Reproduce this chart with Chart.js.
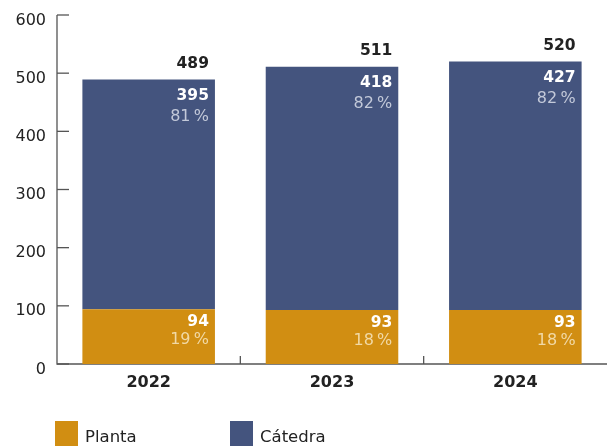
<!DOCTYPE html>
<html><head><meta charset="utf-8">
<script src="https://cdn.jsdelivr.net/npm/chart.js@4.4.1/dist/chart.umd.min.js"></script>
<style>html,body{margin:0;padding:0;background:#fff;}#wrap{position:relative;width:607px;height:446px;}</style>
</head><body><div id="wrap"><canvas id="c" width="607" height="446"></canvas></div>
<script>
const categories = ['2022', '2023', '2024'];
const plantaValues = [94, 93, 93];
const catedraValues = [395, 418, 427];
const totals = [489, 511, 520];
const plantaPct = ['19\u2009%', '18\u2009%', '18\u2009%'];
const catedraPct = ['81\u2009%', '82\u2009%', '82\u2009%'];
const yTicks = [0, 100, 200, 300, 400, 500, 600];
const seriesNames = ['Planta', 'Cátedra'];
const seriesColors = ['#D18E12', '#44547E'];

const FONT = '"DejaVu Sans", sans-serif';

const axes = {
  id: 'axes',
  beforeDatasetsDraw(chart) {
    const ctx = chart.ctx;
    const x = chart.scales.x, y = chart.scales.y;
    const area = chart.chartArea;
    ctx.save();
    ctx.strokeStyle = '#555';
    ctx.lineWidth = 1.3;
    ctx.beginPath();
    ctx.moveTo(area.left, y.getPixelForValue(600));
    ctx.lineTo(area.left, y.getPixelForValue(0));
    ctx.lineTo(area.right, y.getPixelForValue(0));
    ctx.stroke();
    ctx.font = '16px ' + FONT;
    ctx.fillStyle = '#222';
    ctx.textAlign = 'right';
    ctx.textBaseline = 'alphabetic';
    yTicks.forEach(v => {
      const py = y.getPixelForValue(v);
      ctx.beginPath(); ctx.moveTo(area.left, py); ctx.lineTo(area.left + 12, py); ctx.stroke();
      ctx.fillText(String(v), area.left - 11, py + 9.5);
    });
    for (let i = 0; i < categories.length - 1; i++) {
      const px = (x.getPixelForValue(i) + x.getPixelForValue(i + 1)) / 2;
      const py = y.getPixelForValue(0);
      ctx.beginPath(); ctx.moveTo(px, py); ctx.lineTo(px, py - 8); ctx.stroke();
    }
    ctx.font = 'bold 16px ' + FONT;
    ctx.textAlign = 'center';
    categories.forEach((c, i) => {
      ctx.fillText(c, x.getPixelForValue(i), y.getPixelForValue(0) + 22.5);
    });
    ctx.restore();
  }
};

const overlay = {
  id: 'overlay',
  afterDatasetsDraw(chart) {
    const ctx = chart.ctx;
    ctx.save();
    const m0 = chart.getDatasetMeta(0), m1 = chart.getDatasetMeta(1);
    ctx.textAlign = 'right';
    ctx.textBaseline = 'alphabetic';
    categories.forEach((c, i) => {
      const b0 = m0.data[i], b1 = m1.data[i];
      const right = b1.x + b1.width / 2 - 6;
      ctx.font = 'bold 15.5px ' + FONT;
      ctx.fillStyle = '#222';
      ctx.fillText(String(totals[i]), right, b1.y - 11.5);
      ctx.fillStyle = '#fff';
      ctx.fillText(String(catedraValues[i]), right, b1.y + 20);
      ctx.fillText(String(plantaValues[i]), right, b0.y + 17);
      ctx.font = '16px ' + FONT;
      ctx.fillStyle = '#C3C9D9';
      ctx.fillText(catedraPct[i], right, b1.y + 41.5);
      ctx.fillStyle = '#F1D9A6';
      ctx.fillText(plantaPct[i], right, b0.y + 35);
    });
    const lx = [55, 230];
    seriesNames.forEach((n, i) => {
      ctx.fillStyle = seriesColors[i];
      ctx.fillRect(lx[i], 421, 23, 25);
      ctx.fillStyle = '#222';
      ctx.textAlign = 'left';
      ctx.font = '16.5px ' + FONT;
      ctx.fillText(n, lx[i] + 30, 441.5);
    });
    ctx.restore();
  }
};

new Chart(document.getElementById('c'), {
  type: 'bar',
  data: {
    labels: categories,
    datasets: [
      { label: seriesNames[0], data: plantaValues, backgroundColor: seriesColors[0], borderWidth: 0 },
      { label: seriesNames[1], data: catedraValues, backgroundColor: seriesColors[1], borderWidth: 0 }
    ]
  },
  options: {
    responsive: false,
    animation: false,
    devicePixelRatio: 1,
    layout: { padding: { top: 15, right: 0, left: 0, bottom: 0 } },
    plugins: { legend: { display: false }, tooltip: { enabled: false } },
    datasets: { bar: { categoryPercentage: 1, barPercentage: 0.723 } },
    scales: {
      x: {
        stacked: true,
        grid: { display: false },
        border: { display: false },
        ticks: { display: false },
        afterFit(s) { s.height = 82; }
      },
      y: {
        stacked: true,
        min: 0, max: 600,
        grid: { display: false },
        border: { display: false },
        ticks: { display: false, stepSize: 100 },
        afterFit(s) { s.width = 57; }
      }
    }
  },
  plugins: [axes, overlay]
});
</script></body></html>
